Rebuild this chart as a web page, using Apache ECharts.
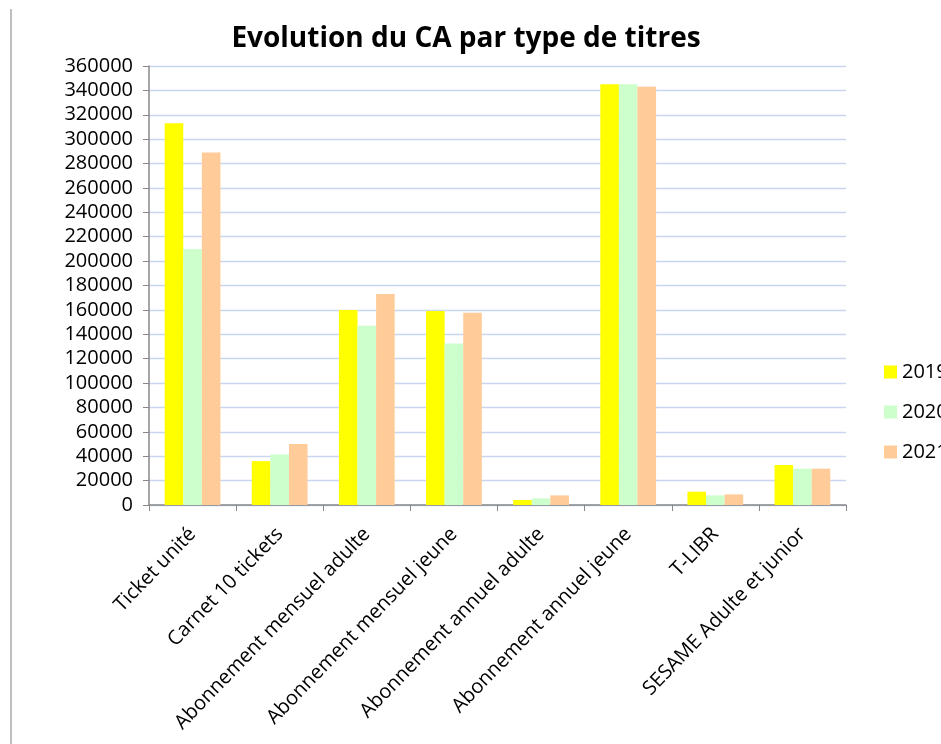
<!DOCTYPE html>
<html>
<head>
<meta charset="utf-8">
<script src="https://cdn.jsdelivr.net/npm/echarts@6/dist/echarts.min.js"></script>
<style>
html, body { margin: 0; padding: 0; background: #fff; }
#chart { width: 941px; height: 744px; }
</style>
</head>
<body>
<div id="chart"></div>
<script>
var categories = ['Ticket unité', 'Carnet 10 tickets', 'Abonnement mensuel adulte', 'Abonnement mensuel jeune',
    'Abonnement annuel adulte', 'Abonnement annuel jeune', 'T-LIBR', 'SESAME Adulte et junior'];
var years = ['2019', '2020', '2021'];
var values2019 = [313000, 36000, 160000, 159000, 4100, 345000, 10900, 32800];
var values2020 = [210000, 41500, 147000, 132500, 5500, 345000, 7900, 29800];
var values2021 = [289000, 50000, 173000, 157600, 7900, 343000, 8700, 29800];
var colors = ['#ffff00', '#ccffcc', '#ffcc99'];

var myChart = echarts.init(document.getElementById('chart'));
var font = 'Open Sans';

function bar(name, data, color) {
    return {
        name: name,
        type: 'bar',
        data: data,
        barGap: 0,
        barCategoryGap: '36%',
        itemStyle: { color: color }
    };
}

var option = {
    backgroundColor: '#ffffff',
    animation: false,
    title: {
        text: 'Evolution du CA par type de titres',
        left: 461,
        top: 20,
        textAlign: 'center',
        textStyle: { fontFamily: font, fontSize: 28, fontWeight: 'bold', color: '#000' }
    },
    legend: {
        orient: 'vertical',
        left: 879,
        top: 357,
        itemGap: 20,
        itemWidth: 13,
        itemHeight: 13,
        icon: 'rect',
        textStyle: { fontFamily: font, fontSize: 20, color: '#000' },
        data: years
    },
    grid: { left: 149, right: 95, top: 66, bottom: 239 },
    xAxis: {
        type: 'category',
        data: categories,
        axisLine: { lineStyle: { color: '#888', width: 1.5 } },
        axisTick: { show: true, length: 6, lineStyle: { color: '#888' } },
        axisLabel: {
            interval: 0,
            rotate: 46,
            margin: 26,
            fontFamily: font,
            fontSize: 20,
            color: '#000'
        }
    },
    yAxis: {
        type: 'value',
        min: 0,
        max: 360000,
        interval: 20000,
        axisLine: { show: true, lineStyle: { color: '#888', width: 1.5 } },
        axisTick: { show: true, inside: false, length: 6, lineStyle: { color: '#888' } },
        axisLabel: {
            fontFamily: font, fontSize: 20, color: '#000', margin: 16,
            formatter: function (v) { return String(v); }
        },
        splitLine: { lineStyle: { color: '#c9d6ef', width: 1.3 } }
    },
    graphic: [{
        type: 'line',
        shape: { x1: 11, y1: 9, x2: 11, y2: 744 },
        style: { stroke: '#aaa', lineWidth: 1.5 }
    }],
    series: [
        bar(years[0], values2019, colors[0]),
        bar(years[1], values2020, colors[1]),
        bar(years[2], values2021, colors[2])
    ]
};
myChart.setOption(option);

window.addEventListener('resize', function () {
    myChart.resize();
});
</script>
</body>
</html>
